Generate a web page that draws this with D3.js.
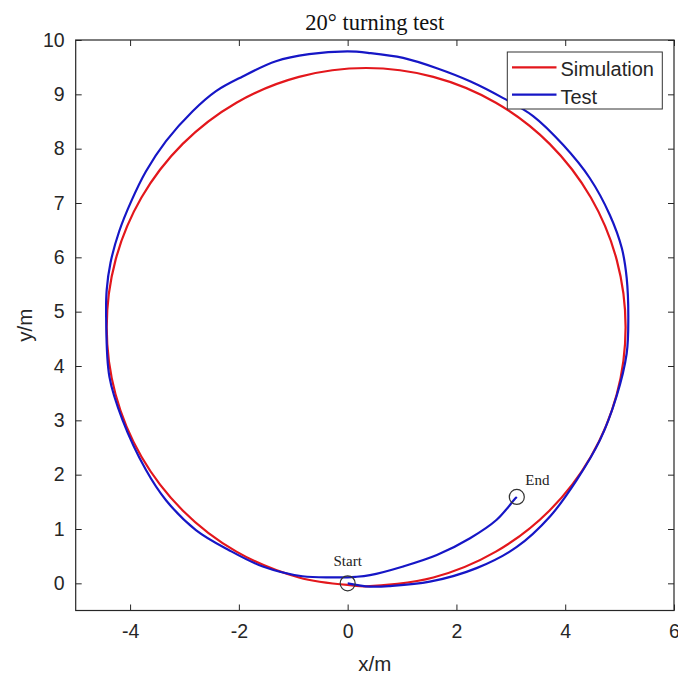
<!DOCTYPE html>
<html>
<head>
<meta charset="utf-8">
<script src="https://cdn.jsdelivr.net/npm/d3@7"></script>
<style>
  html, body { margin: 0; padding: 0; background: #ffffff; }
  svg { display: block; }
</style>
</head>
<body>
<svg id="chart" width="678" height="680"></svg>
<script>
// ---- data ----
const titleText = "20\u00b0 turning test";
const xLabel = "x/m";
const yLabel = "y/m";
const xTicks = [-4, -2, 0, 2, 4, 6];
const yTicks = [0, 1, 2, 3, 4, 5, 6, 7, 8, 9, 10];
const seriesNames = ["Simulation", "Test"];

const simX = [0, 0.34, 1.575, 2.725, 3.713, 4.471, 4.948, 5.11, 4.948, 4.471, 3.713, 2.725, 1.575, 0.34, -0.895, -2.045, -3.033, -3.791, -4.268, -4.43, -4.268, -3.791, -3.033, -2.045, -0.895, 0];
const simY = [-0.03, -0.055, 0.108, 0.584, 1.342, 2.330, 3.481, 4.715, 5.949, 7.100, 8.088, 8.846, 9.322, 9.485, 9.322, 8.846, 8.088, 7.100, 5.949, 4.715, 3.481, 2.330, 1.342, 0.584, 0.108, -0.03];

const testX = [0, 0.41, 0.78, 1.51, 2.37, 3.11, 3.72, 4.21, 4.64, 4.94, 5.13, 5.16, 5.13, 5.04, 4.82, 4.45, 3.96, 3.41, 2.86, 2.25, 1.64, 1.02, 0.41, 0, -0.71, -1.32, -1.93, -2.42, -2.85, -3.34, -3.71, -3.98, -4.20, -4.36, -4.43, -4.44, -4.38, -4.14, -3.71, -3.34, -2.79, -2.18, -1.56, -0.83, -0.21, 0.15, 0.41, 1.02, 1.64, 2.25, 2.74, 3.08, 3.11];
const testY = [0, -0.06, -0.05, 0.03, 0.28, 0.67, 1.23, 1.90, 2.64, 3.43, 4.23, 4.88, 5.62, 6.17, 6.78, 7.46, 8.07, 8.60, 8.93, 9.24, 9.48, 9.67, 9.76, 9.79, 9.74, 9.61, 9.33, 9.06, 8.69, 8.14, 7.58, 7.03, 6.48, 5.90, 5.40, 4.88, 3.80, 3.01, 2.09, 1.53, 0.98, 0.61, 0.31, 0.13, 0.11, 0.12, 0.15, 0.31, 0.52, 0.83, 1.17, 1.56, 1.59];

const markerNames = ["Start", "End"];
const markerX = [0, 3.11];
const markerY = [0, 1.59];

// ---- layout ----
const svg = d3.select("#chart");
const W = 678, H = 680;
const plot = { left: 75.7, right: 674, top: 40, bottom: 610.5 };
const ink = "#262626";
const sansFont = "'Liberation Sans', Arial, sans-serif";
const serifFont = "'Liberation Serif', 'Times New Roman', serif";
const colors = ["#e3171c", "#1616c6"];

const x = d3.scaleLinear().domain([-5, 6]).range([plot.left, plot.right]);
const y = d3.scaleLinear().domain([-0.5, 10]).range([plot.bottom, plot.top]);

svg.append("rect").attr("x", 0).attr("y", 0).attr("width", W).attr("height", H).attr("fill", "#fff");

const clipId = "plotclip";
svg.append("defs").append("clipPath").attr("id", clipId)
  .append("rect").attr("x", plot.left).attr("y", plot.top)
  .attr("width", plot.right - plot.left).attr("height", plot.bottom - plot.top);

// ---- data lines ----
const simData = simX.map((v, i) => [v, simY[i]]);
const testData = testX.map((v, i) => [v, testY[i]]);
const line = d3.line().x(d => x(d[0])).y(d => y(d[1])).curve(d3.curveCatmullRom.alpha(0.5));

const g = svg.append("g").attr("clip-path", `url(#${clipId})`);
g.append("path").datum(simData).attr("d", line)
  .attr("fill", "none").attr("stroke", colors[0]).attr("stroke-width", 2.2).attr("stroke-linejoin", "round");
g.append("path").datum(testData).attr("d", line)
  .attr("fill", "none").attr("stroke", colors[1]).attr("stroke-width", 2.2).attr("stroke-linejoin", "round");

// ---- markers ----
const markers = markerNames.map((n, i) => ({ name: n, x: markerX[i], y: markerY[i] }));
g.selectAll("circle.mk").data(markers).enter().append("circle")
  .attr("class", "mk")
  .attr("cx", d => x(d.x)).attr("cy", d => y(d.y)).attr("r", 7.5)
  .attr("fill", "none").attr("stroke", "#333").attr("stroke-width", 1.2);

svg.selectAll("text.mk").data(markers).enter().append("text")
  .attr("class", "mk")
  .attr("x", d => d.name === "Start" ? x(d.x) : x(d.x) + 8.5)
  .attr("y", d => d.name === "Start" ? y(d.y) - 17.5 : y(d.y) - 12)
  .attr("text-anchor", d => d.name === "Start" ? "middle" : "start")
  .attr("font-family", serifFont).attr("font-size", 15).attr("fill", "#222")
  .text(d => d.name);

// ---- axes (ticks inward on all four sides) ----
const tickLen = 6;
const fmt = d => String(d);
const axB = d3.axisBottom(x).tickValues(xTicks).tickSize(-tickLen).tickPadding(14).tickFormat(fmt);
const axT = d3.axisTop(x).tickValues(xTicks).tickSize(-tickLen).tickFormat("");
const axL = d3.axisLeft(y).tickValues(yTicks).tickSize(-tickLen).tickPadding(11).tickFormat(fmt);
const axR = d3.axisRight(y).tickValues(yTicks).tickSize(-tickLen).tickFormat("");

function styleAxis(sel) {
  sel.select(".domain").remove();
  sel.selectAll(".tick line").attr("stroke", ink).attr("stroke-width", 1);
  sel.selectAll(".tick text").attr("fill", ink).attr("font-family", sansFont).attr("font-size", 19.5);
}
svg.append("g").attr("transform", `translate(0,${plot.bottom})`).call(axB).call(styleAxis);
svg.append("g").attr("transform", `translate(0,${plot.top})`).call(axT).call(styleAxis);
svg.append("g").attr("transform", `translate(${plot.left},0)`).call(axL).call(styleAxis);
svg.append("g").attr("transform", `translate(${plot.right},0)`).call(axR).call(styleAxis);

// box
svg.append("rect").attr("x", plot.left).attr("y", plot.top)
  .attr("width", plot.right - plot.left).attr("height", plot.bottom - plot.top)
  .attr("fill", "none").attr("stroke", ink).attr("stroke-width", 1.2);

// ---- titles ----
const cx = (plot.left + plot.right) / 2;
svg.append("text").attr("x", cx).attr("y", 29.5).attr("text-anchor", "middle")
  .attr("font-family", serifFont).attr("font-size", 22.5).attr("fill", "#111").text(titleText);
svg.append("text").attr("x", cx).attr("y", 671).attr("text-anchor", "middle")
  .attr("font-family", sansFont).attr("font-size", 20.5).attr("fill", ink).text(xLabel);
svg.append("text").attr("transform", `translate(32,${(plot.top + plot.bottom) / 2}) rotate(-90)`)
  .attr("text-anchor", "middle")
  .attr("font-family", sansFont).attr("font-size", 20.5).attr("fill", ink).text(yLabel);

// ---- legend ----
const lg = svg.append("g");
lg.append("rect").attr("x", 507.3).attr("y", 52).attr("width", 155).attr("height", 57)
  .attr("fill", "#fff").attr("stroke", "#333").attr("stroke-width", 1);
seriesNames.forEach((name, i) => {
  const yy = 67.3 + i * 27.4;
  lg.append("line").attr("x1", 512).attr("x2", 556.5).attr("y1", yy).attr("y2", yy)
    .attr("stroke", colors[i]).attr("stroke-width", 2.2);
  lg.append("text").attr("x", 560.5).attr("y", yy + 9).attr("font-family", sansFont)
    .attr("font-size", 20).attr("fill", ink).text(name);
});
</script>
</body>
</html>
